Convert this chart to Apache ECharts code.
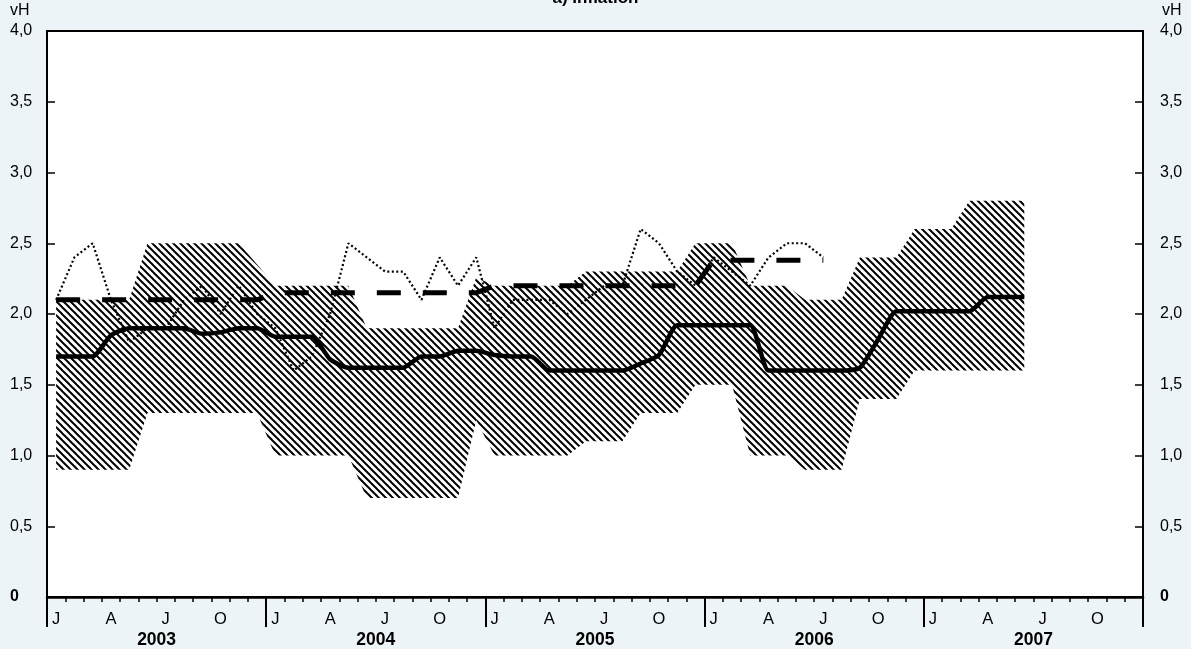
<!DOCTYPE html>
<html>
<head>
<meta charset="utf-8">
<script src="https://cdn.jsdelivr.net/npm/echarts@6/dist/echarts.min.js"></script>
<style>
  html, body { margin: 0; padding: 0; background: #ecf4f8; }
  #chart { width: 1191px; height: 649px; }
</style>
</head>
<body>
<div id="chart"></div>
<script>
// months Jan 2003 .. Dec 2007
const YEARS = ['2003', '2004', '2005', '2006', '2007']
const MONTH_TICKS = ['J', '', '', 'A', '', '', 'J', '', '', 'O', '', '']

// hatched range (lower / upper edge), Jan 2003 .. Jun 2007
const bandLow = [
  0.9, 0.9, 0.9, 0.9, 0.9, 1.3, 1.3, 1.3, 1.3, 1.3, 1.3, 1.3,
  1.0, 1.0, 1.0, 1.0, 1.0, 0.7, 0.7, 0.7, 0.7, 0.7, 0.7, 1.25,
  1.0, 1.0, 1.0, 1.0, 1.0, 1.1, 1.1, 1.1, 1.3, 1.3, 1.3, 1.5,
  1.5, 1.5, 1.0, 1.0, 1.0, 0.9, 0.9, 0.9, 1.4, 1.4, 1.4, 1.6,
  1.6, 1.6, 1.6, 1.6, 1.6, 1.6
]
const bandHigh = [
  2.1, 2.1, 2.1, 2.1, 2.1, 2.5, 2.5, 2.5, 2.5, 2.5, 2.5, 2.35,
  2.2, 2.2, 2.2, 2.2, 2.2, 1.9, 1.9, 1.9, 1.9, 1.9, 1.9, 2.26,
  2.2, 2.2, 2.2, 2.2, 2.2, 2.3, 2.3, 2.3, 2.3, 2.3, 2.3, 2.5,
  2.5, 2.5, 2.2, 2.2, 2.2, 2.1, 2.1, 2.1, 2.4, 2.4, 2.4, 2.6,
  2.6, 2.6, 2.8, 2.8, 2.8, 2.8
]
// solid line
const projection = [
  1.70, 1.70, 1.70, 1.85, 1.90, 1.90, 1.90, 1.90, 1.86, 1.87, 1.90, 1.90,
  1.84, 1.84, 1.84, 1.68, 1.62, 1.62, 1.62, 1.62, 1.70, 1.70, 1.74, 1.74,
  1.71, 1.70, 1.70, 1.60, 1.60, 1.60, 1.60, 1.60, 1.65, 1.71, 1.92, 1.92,
  1.92, 1.92, 1.92, 1.60, 1.60, 1.60, 1.60, 1.60, 1.62, 1.82, 2.02, 2.02,
  2.02, 2.02, 2.02, 2.12, 2.12, 2.12
]
// dashed line
const assumption = [
  2.1, 2.1, 2.1, 2.1, 2.1, 2.1, 2.1, 2.1, 2.1, 2.1, 2.1, 2.1,
  2.15, 2.15, 2.15, 2.15, 2.15, 2.15, 2.15, 2.15, 2.15, 2.15, 2.15, 2.15,
  2.2, 2.2, 2.2, 2.2, 2.2, 2.2, 2.2, 2.2, 2.2, 2.2, 2.2, 2.2,
  2.38, 2.38, 2.38, 2.38, 2.38, 2.38, 2.38
]
// dotted line
const hicp = [
  2.1, 2.4, 2.5, 2.1, 1.8, 1.9, 1.9, 2.1, 2.2, 2.0, 2.2, 2.0,
  1.9, 1.6, 1.7, 2.0, 2.5, 2.4, 2.3, 2.3, 2.1, 2.4, 2.2, 2.4,
  1.9, 2.1, 2.1, 2.1, 2.0, 2.1, 2.2, 2.2, 2.6, 2.5, 2.3, 2.2,
  2.4, 2.3, 2.2, 2.4, 2.5, 2.5, 2.4
]

const FONT = '"Liberation Sans", Arial, Helvetica, sans-serif'
const months = YEARS.flatMap(y => MONTH_TICKS.map((_, i) => y + '-' + (i + 1)))

// "\\\" hatch tile
function hatch(size, width) {
  const c = document.createElement('canvas')
  c.width = size
  c.height = size
  const ctx = c.getContext('2d')
  ctx.strokeStyle = '#000'
  ctx.lineWidth = width
  for (let k = -1; k <= 1; k++) {
    ctx.beginPath()
    ctx.moveTo(k * size - 1, -1)
    ctx.lineTo(k * size + size + 1, size + 1)
    ctx.stroke()
  }
  return c
}

const yAxisBase = {
  type: 'value',
  min: 0,
  max: 4,
  interval: 0.5,
  splitLine: { show: false },
  axisLine: { show: true, lineStyle: { color: '#000', width: 2 } },
  axisTick: { show: true, inside: true, length: 8, lineStyle: { color: '#000', width: 1.5 } },
  axisLabel: {
    color: '#000',
    fontSize: 16,
    fontFamily: FONT,
    align: 'left',
    formatter: v => v === 0 ? '{z|0}' : v.toFixed(1).replace('.', ','),
    rich: { z: { fontWeight: 'bold', fontSize: 16, fontFamily: FONT, color: '#000' } },
  },
}

const chart = echarts.init(document.getElementById('chart'))
chart.setOption({
  backgroundColor: '#ecf4f8',
  animation: false,
  textStyle: { fontFamily: FONT },
  title: [
    { text: 'a) Inflation', left: 'center', top: -10, padding: 0,
      textStyle: { fontSize: 17, fontWeight: 'bold', color: '#000', fontFamily: FONT } },
    { text: 'vH', left: 10, top: 3, padding: 0,
      textStyle: { fontSize: 16, fontWeight: 'normal', color: '#000', fontFamily: FONT } },
    { text: 'vH', left: 1162, top: 3, padding: 0,
      textStyle: { fontSize: 16, fontWeight: 'normal', color: '#000', fontFamily: FONT } },
  ],
  grid: {
    left: 47, right: 48, top: 31, bottom: 52,
    show: true, backgroundColor: '#fff', borderColor: '#000', borderWidth: 2,
  },
  xAxis: [
    {
      type: 'category', data: months, boundaryGap: true, position: 'bottom',
      axisLine: { show: true, lineStyle: { color: '#000', width: 2.5 } },
      axisTick: { show: true, interval: 0, length: 5, lineStyle: { color: '#000', width: 1.5 } },
      axisLabel: {
        interval: 0, margin: 14, fontSize: 16.5, color: '#000', fontFamily: FONT,
        formatter: (v, i) => MONTH_TICKS[i % 12],
      },
    },
    {
      type: 'category', data: YEARS, boundaryGap: true, position: 'bottom',
      axisLine: { show: false },
      axisTick: { show: true, interval: 0, length: 30, lineStyle: { color: '#000', width: 2 } },
      axisLabel: { interval: 0, margin: 34, fontSize: 17.5, fontWeight: 'bold', color: '#000', fontFamily: FONT },
    },
  ],
  yAxis: [
    { ...yAxisBase, position: 'left', axisLabel: { ...yAxisBase.axisLabel, margin: 37 } },
    { ...yAxisBase, position: 'right', axisLabel: { ...yAxisBase.axisLabel, margin: 17 } },
  ],
  series: [
    {
      type: 'line', stack: 'band', data: bandLow, symbol: 'none', silent: true, z: 1,
      lineStyle: { opacity: 0 },
    },
    {
      type: 'line', stack: 'band', symbol: 'none', silent: true, z: 1,
      data: bandHigh.map((v, i) => +(v - bandLow[i]).toFixed(2)),
      lineStyle: { opacity: 0 },
      areaStyle: { color: { image: hatch(7, 2), repeat: 'repeat' }, opacity: 1 },
    },
    {
      type: 'line', data: hicp, symbol: 'none', z: 2,
      lineStyle: { color: '#000', width: 2.2, type: [2, 2.5] },
    },
    {
      type: 'line', data: assumption, symbol: 'none', z: 3,
      lineStyle: { color: '#000', width: 5, type: [24, 22], cap: 'butt' },
    },
    {
      type: 'line', data: projection, symbol: 'none', smooth: 0.2, z: 4,
      lineStyle: { color: '#000', width: 4.5, join: 'round' },
    },
  ],
})
</script>
</body>
</html>
